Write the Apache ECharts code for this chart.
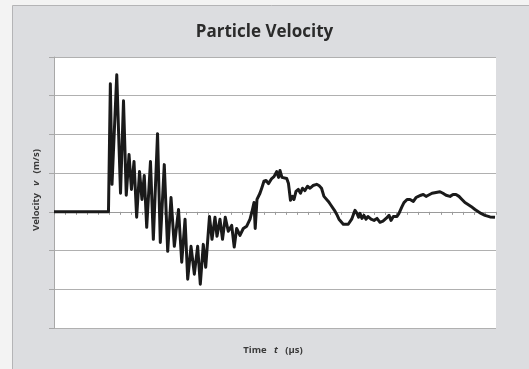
<!DOCTYPE html>
<html>
<head>
<meta charset="utf-8">
<script src="https://cdn.jsdelivr.net/npm/echarts@6/dist/echarts.min.js"></script>
<style>
html,body{margin:0;padding:0;background:#f3f3f3;}
#chart{width:529px;height:369px;}
</style>
</head>
<body>
<div id="chart"></div>
<script>
// Time (µs, arbitrary units along axis) and particle velocity (m/s)
const timeValues = [0,4.93,5.10,5.25,5.68,6.02,6.29,6.54,6.79,7.01,7.24,7.48,7.74,7.96,8.17,8.39,8.73,8.99,9.37,9.62,9.98,10.29,10.59,10.89,11.27,11.56,11.86,12.10,12.40,12.70,13.00,13.24,13.51,13.73,14.07,14.30,14.57,14.75,15.02,15.25,15.50,15.77,16.08,16.31,16.53,16.83,17.13,17.44,17.74,17.92,18.10,18.21,18.37,18.64,18.82,19.00,19.19,19.41,19.70,19.91,20.15,20.32,20.45,20.63,20.81,21.06,21.22,21.40,21.58,21.72,21.90,22.11,22.31,22.49,22.71,22.94,23.17,23.44,23.77,23.98,24.21,24.43,24.83,25.02,25.16,25.38,25.58,25.79,26.18,26.63,26.94,27.24,27.42,27.56,27.69,27.87,28.05,28.24,28.42,28.69,28.96,29.23,29.50,29.77,30.05,30.32,30.50,30.71,31.04,31.22,31.47,31.67,31.95,32.22,32.52,32.76,32.97,33.21,33.42,33.67,33.87,34.21,34.57,34.93,35.20,35.48,35.84,36.11,36.38,36.65,36.92,37.19,37.47,37.74,38.10,38.37,38.64,39.00,39.46,39.91];
const velocityValues = [0,0,3.31,0.71,3.54,0.48,2.87,0.43,1.48,0.58,1.30,-0.14,1.04,0.32,0.94,-0.40,1.30,-0.71,2.02,-0.79,1.22,-1.02,0.37,-0.89,0.06,-1.30,-0.19,-1.74,-0.89,-1.61,-0.89,-1.87,-0.84,-1.43,-0.12,-0.71,-0.14,-0.63,-0.19,-0.71,-0.14,-0.50,-0.35,-0.91,-0.43,-0.61,-0.43,-0.37,-0.19,0.01,0.24,-0.43,0.32,0.48,0.63,0.79,0.81,0.73,0.86,0.91,1.04,0.89,1.07,0.89,0.94,0.86,0.73,0.30,0.40,0.32,0.53,0.58,0.48,0.61,0.55,0.66,0.61,0.68,0.71,0.68,0.61,0.40,0.27,0.19,0.24,0.04,-0.06,-0.19,-0.32,-0.32,-0.19,0.04,-0.04,-0.14,-0.04,-0.17,-0.09,-0.19,-0.12,-0.19,-0.22,-0.17,-0.27,-0.24,-0.17,-0.09,-0.22,-0.12,-0.12,-0.04,0.12,0.24,0.32,0.32,0.27,0.37,0.40,0.43,0.45,0.40,0.43,0.48,0.50,0.52,0.48,0.43,0.40,0.45,0.45,0.40,0.32,0.24,0.19,0.14,0.06,0.01,-0.04,-0.09,-0.13,-0.14];
const yTicks = [-3,-2,-1,0,1,2,3,4];
const xRange = [0,40];

const seriesData = timeValues.map((t,i)=>[t, velocityValues[i]]);

const chart = echarts.init(document.getElementById('chart'), null, {renderer:'canvas'});
chart.setOption({
  animation:false,
  backgroundColor:'#f3f3f3',
  title:{
    text:'Particle Velocity',
    left:'center', top:19,
    textStyle:{fontFamily:'Open Sans', fontWeight:'bold', fontSize:17, color:'#2b2b2b'}
  },
  graphic:[
    {type:'rect', z:-100, shape:{x:12.5,y:5.5,width:530,height:380}, style:{fill:'#dcdde0', stroke:'#b4b4b6', lineWidth:1}},
    {type:'text', x:36, y:190, rotation:Math.PI/2, style:{
      text:'Velocity   {i|v}   (m/s)', fontFamily:'Open Sans', fontSize:9.5, fontWeight:'bold', fill:'#3a3a3a',
      align:'center', verticalAlign:'middle',
      rich:{i:{fontStyle:'italic', fontFamily:'Open Sans', fontSize:9.5, fontWeight:'bold', fill:'#3a3a3a'}}
    }},
    {type:'text', x:273, y:350, style:{
      text:'Time   {i|t}   (µs)', fontFamily:'Open Sans', fontSize:9.5, fontWeight:'bold', fill:'#3a3a3a',
      align:'center', verticalAlign:'middle',
      rich:{i:{fontStyle:'italic', fontFamily:'Open Sans', fontSize:9.5, fontWeight:'bold', fill:'#3a3a3a'}}
    }}
  ],
  grid:{left:54, top:57, right:33, bottom:41, show:true, backgroundColor:'#ffffff', borderWidth:0},
  xAxis:{
    type:'value', min:xRange[0], max:xRange[1], interval:1,
    axisLine:{show:true, onZero:true, lineStyle:{color:'#9a9a9a', width:1}},
    axisTick:{show:true, length:3, lineStyle:{color:'#9a9a9a'}},
    axisLabel:{show:false},
    splitLine:{show:false}
  },
  yAxis:{
    type:'value', min:yTicks[0], max:yTicks[yTicks.length-1], interval:1,
    axisLine:{show:true, lineStyle:{color:'#a8a8a8', width:1}},
    axisTick:{show:true, length:5, lineStyle:{color:'#a8a8a8'}},
    axisLabel:{show:false},
    splitLine:{show:true, lineStyle:{color:'#b0b0b0', width:1.2}}
  },
  series:[{
    type:'line', data:seriesData, showSymbol:false, symbol:'none',
    lineStyle:{color:'#1a1a1a', width:3, join:'round'}
  }]
});
</script>
</body>
</html>
